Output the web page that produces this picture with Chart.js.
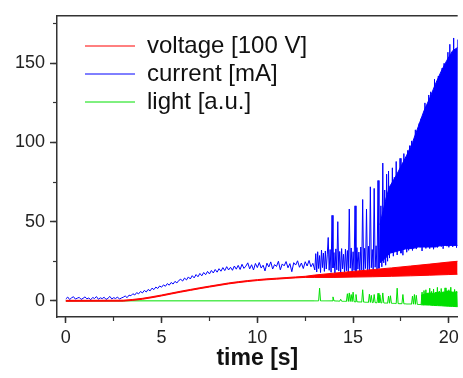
<!DOCTYPE html>
<html>
<head>
<meta charset="utf-8">
<script src="https://cdn.jsdelivr.net/npm/chart.js@4/dist/chart.umd.min.js"></script>
<style>
  html, body { margin: 0; padding: 0; background: #fff; overflow: hidden; }
  canvas { display: block; }
</style>
</head>
<body>
<canvas id="plot" width="463" height="378"></canvas>
<script>
// axis ticks
const timeTicks = [0, 5, 10, 15, 20];
const timeMinor = [0, 2.5, 5, 7.5, 10, 12.5, 15, 17.5, 20];
const valueTicks = [0, 50, 100, 150];
const valueMinor = [0, 25, 50, 75, 100, 125, 150, 175];
const legendNames = ['voltage [100 V]', 'current [mA]', 'light [a.u.]'];

// voltage [100 V]: smooth rise, widens into a band after ~13 s
const voltTime = [0, 3, 3.5, 4, 4.5, 5, 5.5, 6, 6.5, 7, 7.5, 8, 8.5, 9, 9.5, 10, 10.5, 11, 11.5, 12, 12.5, 13, 14, 15, 16, 17, 18, 19, 20, 20.46];
const voltHigh = [0.3, 0.4, 0.9, 1.6, 2.6, 3.7, 4.9, 6.1, 7.2, 8.3, 9.3, 10.3, 11.3, 12.1, 12.8, 13.4, 13.9, 14.3, 14.7, 15.1, 15.5, 16.3, 17.5, 18.6, 19.7, 20.8, 22.0, 23.2, 24.5, 25.0];
const voltLow = [-0.3, -0.2, 0.3, 1.0, 2.0, 3.1, 4.3, 5.5, 6.6, 7.7, 8.7, 9.7, 10.7, 11.5, 12.2, 12.8, 13.3, 13.7, 14.1, 14.5, 14.8, 14.8, 14.8, 15.0, 15.2, 15.5, 15.8, 16.2, 16.6, 16.8];

// current [mA], 0.0 .. 12.9 s every 0.1 s
const currentEarly = [
  1.2, 2.4, 0.8, 1.9, 2.6, 1.1, 1.7, 2.2, 0.9, 1.6,
  2.5, 1.3, 1.8, 0.7, 2.1, 1.5, 2.7, 1.0, 1.9, 1.4,
  2.3, 0.9, 1.6, 2.8, 1.2, 2.0, 1.5, 2.4, 1.1, 1.8,
  2.3, 3.1, 2.0, 3.6, 3.2, 4.5, 3.7, 5.2, 4.4, 5.9,
  5.0, 6.6, 5.6, 7.2, 6.3, 8.0, 7.1, 8.7, 7.8, 9.4,
  8.6, 10.1, 9.2, 10.9, 9.9, 11.6, 10.6, 12.3, 11.3, 12.9,
  13.6, 12.5, 14.4, 13.2, 15.1, 13.8, 15.9, 14.5, 16.6, 15.2,
  17.3, 15.8, 17.9, 16.5, 18.6, 17.0, 19.2, 17.6, 19.8, 18.1,
  20.3, 18.7, 21.0, 19.1, 21.6, 19.5, 21.2, 19.3, 22.0, 20.0,
  22.4, 19.8, 23.1, 20.5, 21.9, 24.0, 20.2, 22.8, 19.5, 23.6,
  21.0, 24.2, 20.7, 22.5, 18.9, 23.8, 21.4, 24.6, 20.1, 22.9,
  21.7, 25.0, 19.6, 23.3, 22.1, 24.8, 20.9, 23.5, 18.4, 24.1,
  22.6, 25.3, 21.2, 23.9, 20.4, 24.7, 22.0, 25.5, 21.5, 23.7
];

// current [mA], 13.00 .. 20.45 s every 0.05 s
const currentLate = [
  19.5, 29.8, 18.2, 31.0, 20.4, 28.6, 17.9, 32.1, 21.0, 30.2,
  18.6, 31.5, 20.1, 29.0, 40.0, 19.3, 32.4, 18.0, 54.0, 20.8,
  30.5, 17.4, 32.8, 19.6, 50.0, 18.8, 31.2, 16.9, 33.0, 20.2,
  29.4, 18.1, 32.6, 19.0, 31.8, 17.5, 58.0, 20.6, 33.4, 18.4,
  31.0, 19.2, 60.0, 17.8, 33.6, 20.0, 30.8, 18.3, 34.0, 19.5,
  64.0, 18.0, 33.2, 20.4, 58.0, 19.1, 34.5, 17.6, 72.0, 20.9,
  32.4, 18.7, 71.0, 21.2, 34.8, 19.0, 76.0, 20.5, 33.5, 60.0,
  21.5, 87.0, 24.0, 70.0, 22.5, 80.0, 25.0, 82.0, 27.0, 65.0,
  30.5, 84.0, 28.2, 78.0, 31.6, 88.0, 29.0, 62.0, 32.4, 90.0,
  30.1, 85.0, 28.8, 93.0, 33.0, 76.0, 30.7, 95.0, 31.9, 98.0,
  33.5, 101.0, 31.8, 96.0, 34.6, 108.0, 32.7, 88.0, 35.2, 112.0,
  33.9, 115.0, 31.5, 104.0, 34.8, 125.0, 33.1, 97.0, 35.6, 130.0,
  33.0, 132.0, 35.4, 118.0, 32.6, 140.0, 34.9, 136.0, 33.7, 142.0,
  36.1, 128.0, 34.2, 147.0, 32.9, 150.0, 35.8, 138.0, 34.5, 157.0,
  33.8, 162.0, 35.5, 150.0, 34.1, 166.0, 36.0, 158.0, 33.6, 165.0
];

// solid part of the current trace where it oscillates densely
const currentBandTime = [16.4, 16.7, 16.9, 17.2, 17.5, 17.8, 18.1, 18.4, 18.7, 19.0, 19.3, 19.6, 19.9, 20.2, 20.46];
const currentBandHigh = [48, 64, 72, 78, 85, 92, 100, 110, 120, 128, 137, 145, 152, 158, 160];
const currentBandLow = [24, 27, 30, 31, 32, 33, 33, 34, 34, 34, 34, 35, 35, 35, 35];

// light [a.u.], flat zero until 13 s, then same grid as currentLate
const lightLate = [
  0.0, 0.0, 0.0, 0.0, 0.0, 8.0, 0.0, 0.0, 0.0, 0.0,
  0.0, 0.0, 0.0, 0.0, 0.0, 0.0, 0.0, 0.0, 0.0, 2.5,
  0.0, 0.0, -0.1, -0.1, -0.1, -0.2, -0.2, 1.0, -0.2, -0.3,
  -0.3, -0.3, -0.3, -0.4, 4.5, -0.4, 5.0, -0.4, 4.0, -0.5,
  5.5, -0.5, -0.6, 4.0, -0.6, -0.6, -0.7, -0.7, -0.7, -0.8,
  7.0, -0.8, -0.8, -0.9, -0.9, -0.9, -1.0, 4.2, -1.0, 3.5,
  -1.1, -1.1, 4.0, -1.1, -1.2, -1.2, 4.8, -1.2, 3.8, -1.3,
  -1.3, 5.0, -1.3, -1.4, -1.4, -1.4, -1.5, 3.0, -1.5, 3.2,
  -1.5, -1.6, -1.6, -1.6, -1.7, -1.7, 8.0, -1.7, -1.8, -1.8,
  -1.8, -1.8, 4.0, -1.9, -1.9, -1.9, -2.0, -2.0, -2.0, -2.0,
  -2.0, -2.1, 3.0, -2.1, 4.0, -2.2, 3.5, -2.2, -2.3, -2.3,
  -2.3, -2.4, 5.5, -2.4, 6.5, -2.5, 7.0, -2.5, 5.0, -2.6,
  8.0, -2.6, 6.0, -2.7, 7.5, -2.8, 5.5, -2.8, 8.5, -2.9,
  6.2, -3.0, 7.8, -3.0, 5.8, -3.1, 8.2, -3.2, 6.5, -3.3,
  7.0, -3.4, 8.6, -3.4, 5.5, -3.5, 7.2, -3.6, 6.0, -3.7
];

// solid part of the light trace at the end
const lightBandTime = [18.55, 18.8, 19.0, 19.2, 19.4, 19.6, 19.8, 20.0, 20.2, 20.46];
const lightBandHigh = [3.5, 4.5, 5.0, 4.6, 5.4, 5.0, 5.6, 6.0, 5.5, 5.6];
const lightBandLow = [-2.5, -2.6, -2.7, -2.9, -3.0, -3.1, -3.3, -3.4, -3.5, -3.7];

// sampling grids of the recorded traces
const earlyStep = 0.1, lateStart = 13, lateStep = 0.05;
const earlyTime = currentEarly.map((v, i) => Math.round(i * earlyStep * 100) / 100);
const lateTime = currentLate.map((v, i) => Math.round((lateStart + i * lateStep) * 100) / 100);

function pairs(xs, ys) {
  return xs.map((x, i) => ({x: x, y: ys[i]}));
}

const FONT = "'Liberation Sans', Arial, Helvetica, sans-serif";
const AXIS = '#333';
const RED = '#ff0000', BLUE = '#0000ff', GREEN = '#00e000';
const X_MIN = -0.46, X_MAX = 20.46;
const Y_MIN = -10.2, Y_MAX = 180;

function trace(label, data, color, fill) {
  return {
    label: label, data: data,
    borderColor: color, backgroundColor: color,
    borderWidth: 1, fill: fill === undefined ? false : fill,
    xAxisID: 'x', yAxisID: 'y'
  };
}

// top frame line (the plot is cropped on the right)
const frame = {
  id: 'frame',
  afterDraw(chart) {
    const a = chart.chartArea, ctx = chart.ctx;
    ctx.save();
    ctx.strokeStyle = AXIS;
    ctx.lineWidth = 1.5;
    ctx.beginPath();
    ctx.moveTo(a.left, a.top);
    ctx.lineTo(a.right, a.top);
    ctx.stroke();
    ctx.restore();
  }
};

// move the legend a bit inside the plot
const legendShift = {
  id: 'legendShift',
  afterLayout(chart) {
    if (chart.legend) {
      chart.legend.left += 24;
      chart.legend.top += 30;
    }
  }
};

new Chart(document.getElementById('plot'), {
  type: 'line',
  data: {
    datasets: [
      trace('voltage [100 V]', pairs(voltTime, voltHigh), RED, 1),
      trace('voltage low', pairs(voltTime, voltLow), RED),
      trace('current [mA]', pairs(earlyTime.concat(lateTime), currentEarly.concat(currentLate)), BLUE),
      trace('current band', pairs(currentBandTime, currentBandHigh), BLUE, 4),
      trace('current band low', pairs(currentBandTime, currentBandLow), BLUE),
      trace('light [a.u.]', [{x: 0, y: 0}].concat(pairs(lateTime, lightLate)), GREEN),
      trace('light band', pairs(lightBandTime, lightBandHigh), GREEN, 7),
      trace('light band low', pairs(lightBandTime, lightBandLow), GREEN)
    ]
  },
  options: {
    responsive: false,
    animation: false,
    events: [],
    layout: { padding: { top: 11, left: 0, right: 0, bottom: 0 }, autoPadding: false },
    elements: { point: { radius: 0 }, line: { tension: 0 } },
    plugins: {
      tooltip: { enabled: false },
      filler: { propagate: false },
      legend: {
        position: 'chartArea',
        align: 'start',
        labels: {
          usePointStyle: true,
          pointStyle: 'line',
          pointStyleWidth: 50,
          padding: 4,
          color: '#111',
          font: { family: FONT, size: 24 },
          filter: item => legendNames.includes(item.text)
        }
      }
    },
    scales: {
      x: {
        type: 'linear', position: 'bottom', weight: 1,
        min: X_MIN, max: X_MAX,
        afterBuildTicks: s => { s.ticks = timeTicks.map(v => ({value: v})); },
        afterFit: s => { s.height = 61; },
        ticks: { padding: 4, color: '#222', font: { family: FONT, size: 18 }, maxRotation: 0, autoSkip: false },
        grid: { drawOnChartArea: false, tickLength: 6, tickColor: AXIS, tickWidth: 1.5 },
        border: { color: AXIS, width: 1.5 },
        title: {
          display: true, text: 'time [s]', color: '#111',
          font: { family: FONT, size: 23, weight: 'bold' },
          padding: { top: 0, bottom: 6 }
        }
      },
      xMinor: {
        type: 'linear', position: 'bottom', weight: 0,
        min: X_MIN, max: X_MAX,
        afterBuildTicks: s => { s.ticks = timeMinor.map(v => ({value: v})); },
        afterFit: s => { s.height = 0; },
        ticks: { display: false },
        grid: { drawOnChartArea: false, tickLength: 4, tickColor: AXIS, tickWidth: 1.2 },
        border: { display: false }
      },
      y: {
        type: 'linear', position: 'left', weight: 1,
        min: Y_MIN, max: Y_MAX,
        afterBuildTicks: s => { s.ticks = valueTicks.map(v => ({value: v})); },
        afterFit: s => { s.width = 57; },
        ticks: { padding: 5, color: '#222', font: { family: FONT, size: 18 } },
        grid: { drawOnChartArea: false, tickLength: 7, tickColor: AXIS, tickWidth: 1.5 },
        border: { color: AXIS, width: 1.5 }
      },
      yMinor: {
        type: 'linear', position: 'left', weight: 0,
        min: Y_MIN, max: Y_MAX,
        afterBuildTicks: s => { s.ticks = valueMinor.map(v => ({value: v})); },
        afterFit: s => { s.width = 0; },
        ticks: { display: false },
        grid: { drawOnChartArea: false, tickLength: 4, tickColor: AXIS, tickWidth: 1.2 },
        border: { display: false }
      }
    }
  },
  plugins: [frame, legendShift]
});
</script>
</body>
</html>
